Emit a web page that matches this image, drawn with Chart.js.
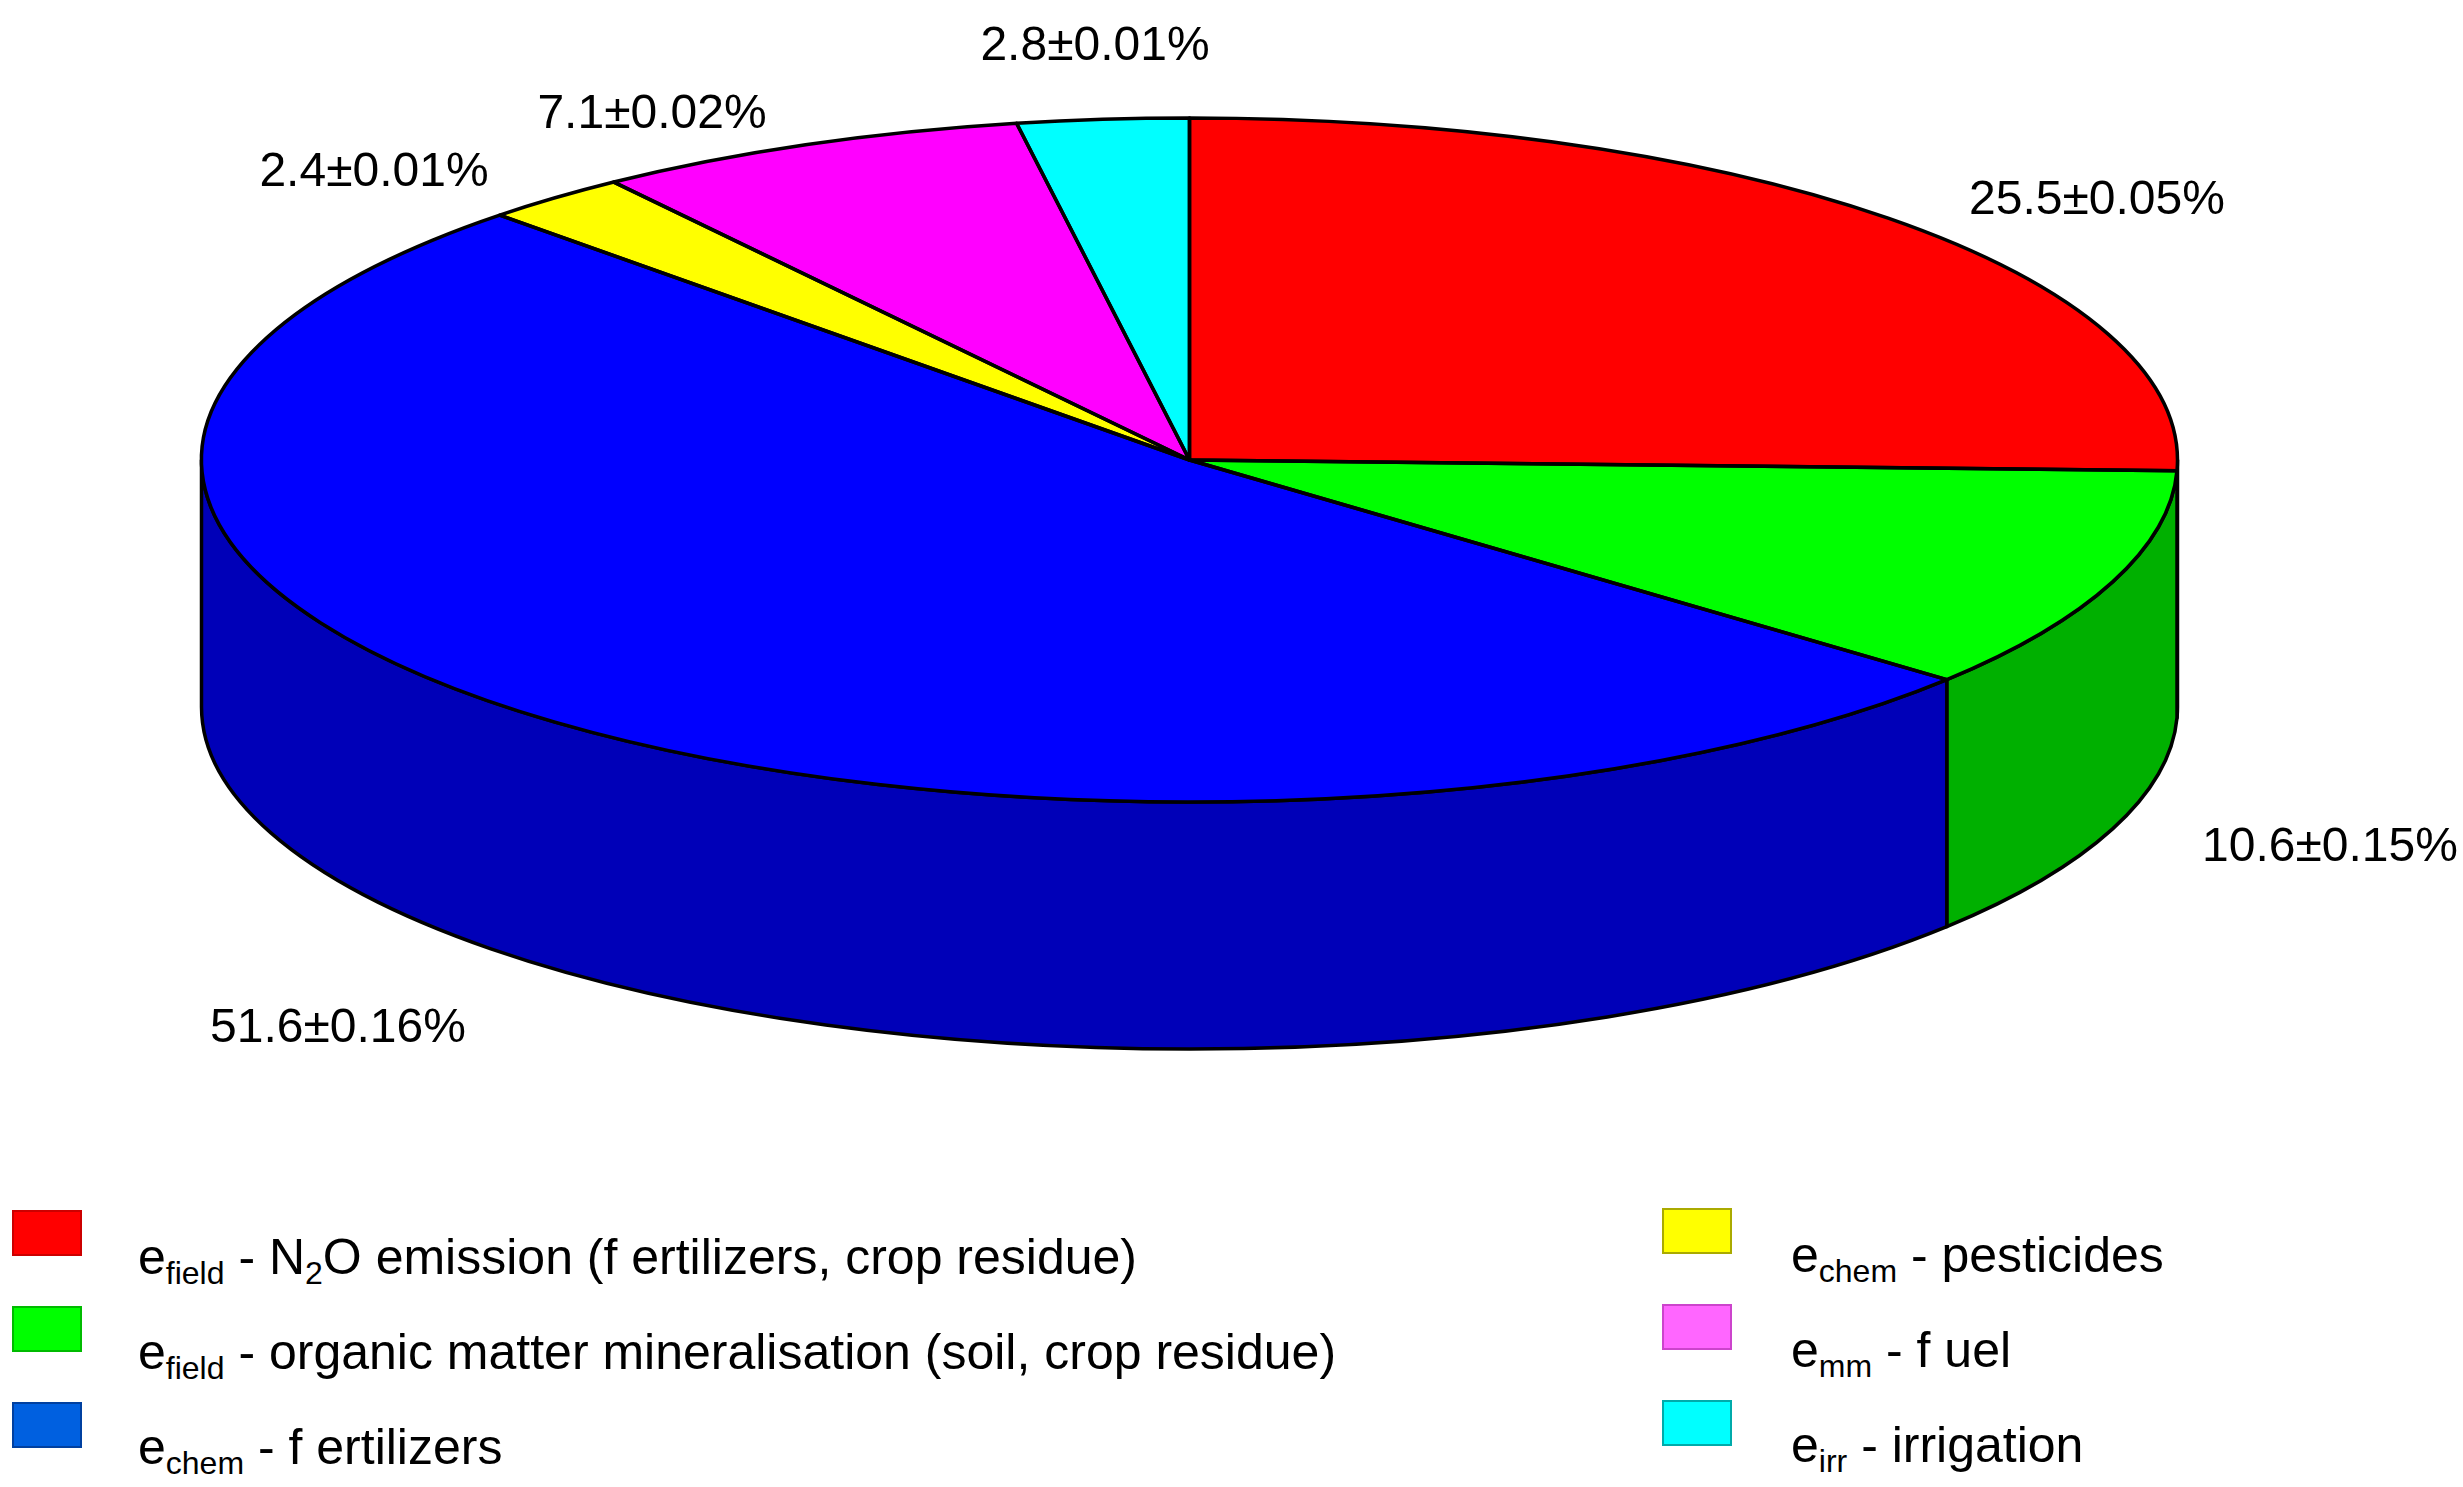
<!DOCTYPE html>
<html><head><meta charset="utf-8">
<script src="https://cdn.jsdelivr.net/npm/chart.js@4"></script>
<style>
html,body{margin:0;padding:0;background:#fff;width:2463px;height:1487px;overflow:hidden;font-family:"Liberation Sans",Arial,sans-serif}
#wrap{position:absolute;left:0;top:0;width:2463px;height:1130px}
.lg{position:absolute;font-size:50px;color:#000;white-space:nowrap}
.bx{position:absolute;width:70px;height:46px;box-sizing:border-box;border:2px solid #888}
sub{font-size:32px;vertical-align:-10px}
</style></head><body>
<div id="wrap"><canvas id="c"></canvas></div>
<div class="bx" style="left:12px;top:1210px;background:#ff0000;border-color:#c00"></div>
<div class="bx" style="left:12px;top:1306px;background:#00ff00;border-color:#0b0"></div>
<div class="bx" style="left:12px;top:1402px;background:#0060e0;border-color:#0040a0"></div>
<div class="bx" style="left:1662px;top:1208px;background:#ffff00;border-color:#aa0"></div>
<div class="bx" style="left:1662px;top:1304px;background:#ff66ff;border-color:#c4c"></div>
<div class="bx" style="left:1662px;top:1400px;background:#00ffff;border-color:#0aa"></div>
<div class="lg" style="left:138px;top:1228px">e<sub>field</sub> - N<sub>2</sub>O emission (f ertilizers, crop residue)</div>
<div class="lg" style="left:138px;top:1323px">e<sub>field</sub> - organic matter mineralisation (soil, crop residue)</div>
<div class="lg" style="left:138px;top:1418px">e<sub>chem</sub> - f ertilizers</div>
<div class="lg" style="left:1791px;top:1226px">e<sub>chem</sub> - pesticides</div>
<div class="lg" style="left:1791px;top:1321px">e<sub>mm</sub> - f uel</div>
<div class="lg" style="left:1791px;top:1416px">e<sub>irr</sub> - irrigation</div>
<script>
const categories = ["efield - N2O emission","efield - organic matter mineralisation","echem - fertilizers","echem - pesticides","emm - fuel","eirr - irrigation"];
const values = [25.5, 10.6, 51.6, 2.4, 7.1, 2.8];
const errors = ["0.05","0.15","0.16","0.01","0.02","0.01"];
const topColors = ["#ff0000","#00ff00","#0000ff","#ffff00","#ff00ff","#00ffff"];
const sideColors = ["#c00000","#00b000","#0000b8","#b0b000","#b000b0","#00b0b0"];
// layout only: label anchor points (screen px)
const labelPos = [[2097,201],[2330,848],[338,1029],[374,173],[652,115],[1095,47]];

const RX = 988, RY = 342, DEPTH = 247;
function setT(ctx, a){const s=a.outerRadius;ctx.translate(a.x,a.y);ctx.scale(RX/s,RY/s);ctx.translate(-a.x,-a.y);}

const pie3d = {
  id:'pie3d',
  beforeDatasetsDraw(chart){
    const ctx=chart.ctx, arcs=chart.getDatasetMeta(0).data;
    arcs.forEach((a,i)=>{
      let s=Math.max(a.startAngle,0), e=Math.min(a.endAngle,Math.PI);
      // normalize angles into [-pi/2, 3pi/2]
      if(e<=s) return;
      const r=a.outerRadius, d=DEPTH*r/RY;
      ctx.save(); setT(ctx,a);
      ctx.beginPath();
      ctx.arc(a.x,a.y,r,s,e);
      ctx.lineTo(a.x+r*Math.cos(e),a.y+r*Math.sin(e)+d);
      ctx.arc(a.x,a.y+d,r,e,s,true);
      ctx.closePath();
      ctx.restore();
      ctx.fillStyle=sideColors[i];ctx.fill();
      ctx.lineWidth=3.5;ctx.strokeStyle='#000';ctx.lineJoin='round';ctx.stroke();
    });
    ctx.save(); setT(ctx,arcs[0]);
  },
  afterDatasetsDraw(chart){
    const ctx=chart.ctx, arcs=chart.getDatasetMeta(0).data;
    ctx.restore();
    arcs.forEach((a)=>{
      ctx.save(); setT(ctx,a);
      ctx.beginPath(); ctx.moveTo(a.x,a.y);
      ctx.arc(a.x,a.y,a.outerRadius,a.startAngle,a.endAngle); ctx.closePath();
      ctx.restore();
      ctx.lineWidth=3.5;ctx.strokeStyle='#000';ctx.lineJoin='round';ctx.stroke();
    });
    ctx.save();
    ctx.font='48px "Liberation Sans", Arial, sans-serif';
    ctx.fillStyle='#000';ctx.textAlign='center';ctx.textBaseline='middle';
    values.forEach((v,i)=>{
      ctx.fillText(v.toFixed(1)+'\u00b1'+errors[i]+'%',labelPos[i][0],labelPos[i][1]);
    });
    ctx.restore();
  }
};

new Chart(document.getElementById('c'),{
  type:'pie',
  data:{labels:categories,datasets:[{data:values,backgroundColor:topColors,borderWidth:0}]},
  options:{responsive:true,maintainAspectRatio:false,animation:false,
    layout:{padding:{left:0,right:84,top:0,bottom:210}},
    plugins:{legend:{display:false},tooltip:{enabled:false}}},
  plugins:[pie3d]
});
</script>
</body></html>
